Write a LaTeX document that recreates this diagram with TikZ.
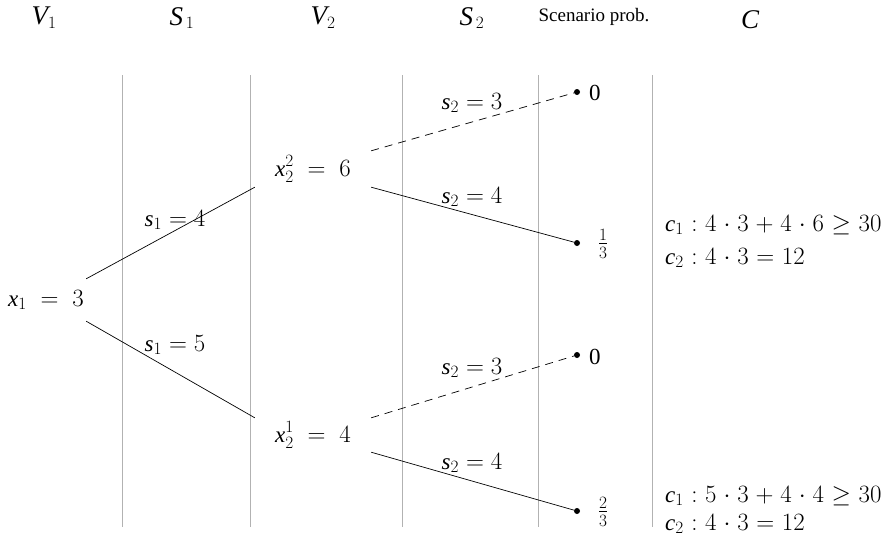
\documentclass[tikz,border=0pt]{standalone}
\usepackage{amsmath}
\usepackage{fontspec}
\setmainfont{Liberation Serif}[NFSSFamily=lsf]
\DeclareSymbolFont{lsfit}{TU}{lsf}{m}{it}
\DeclareSymbolFont{lsfrm}{TU}{lsf}{m}{n}
\DeclareMathSizes{23}{23}{16}{12}
\DeclareMathSizes{27}{27}{19}{14}
\Umathcode`0=0 \symlsfrm `0
\Umathcode`1=0 \symlsfrm `1
\Umathcode`2=0 \symlsfrm `2
\Umathcode`3=0 \symlsfrm `3
\Umathcode`4=0 \symlsfrm `4
\Umathcode`5=0 \symlsfrm `5
\Umathcode`6=0 \symlsfrm `6
\Umathcode`7=0 \symlsfrm `7
\Umathcode`8=0 \symlsfrm `8
\Umathcode`9=0 \symlsfrm `9
\Umathcode`x=7 \symlsfit `x
\Umathcode`s=7 \symlsfit `s
\Umathcode`c=7 \symlsfit `c
\Umathcode`V=7 \symlsfit `V
\Umathcode`S=7 \symlsfit `S
\Umathcode`C=7 \symlsfit `C
\newcommand{\consmath}[1]{\medmuskip=5mu\relax\thickmuskip=5.5mu\relax$#1$}
\begin{document}
\begin{tikzpicture}[x=1pt,y=-1pt,
  sep/.style={draw=black!30, line width=0.9pt},
  conn/.style={line width=0.7pt},
  dsh/.style={conn, dash pattern=on 8pt off 6pt},
  hdr/.style={font=\fontsize{27}{32}\selectfont, inner sep=0},
  hdrtext/.style={font=\fontsize{19}{22}\selectfont, inner sep=0},
  lbl/.style={font=\fontsize{23}{27}\selectfont, inner sep=0},
  cons/.style={font=\fontsize{23}{27}\selectfont, inner sep=0, anchor=base west},
  st/.style={font=\fontsize{23}{27}\selectfont, inner sep=0, minimum width=116, minimum height=36},
  dot/.style={circle, fill, inner sep=0, minimum size=6}]
\useasboundingbox (0,0) rectangle (890,541);
% separators
\foreach \x in {122,250,402,538,652} \draw[sep] (\x,75) -- (\x,527);
% headers
\node[hdr] (hV1) at (44,18) {$V_1$};
\node[hdr] (hS1) at (182,18) {$S_{\,1}$};
\node[hdr] (hV2) at (323,18) {$V_2$};
\node[hdr] (hS2) at (472,18) {$S_{\,2}$};
\node[hdrtext] (hP) at (594,17) {Scenario prob.};
\node[hdr] (hC) at (750,20) {$C$};
% states
\node[st, minimum width=80, minimum height=42] (x1) at (46,300) {$x_1\;=\;3$};
\node[st] (x22) at (313,169) {$x_2^2\;=\;6$};
\node[st, minimum height=34] (x21) at (313,435) {$x_2^1\;=\;4$};
% leaves
\node[dot] (d1) at (577,92) {};
\node[dot] (d2) at (577,243) {};
\node[dot] (d3) at (577,355) {};
\node[dot] (d4) at (577,511) {};
\node[lbl, anchor=west] (p1) at (589,93) {0};
\node[lbl] (p2) at (603,244) {$\frac{1}{3}$};
\node[lbl, anchor=west] (p3) at (589,357) {0};
\node[lbl] (p4) at (603,512) {$\frac{2}{3}$};
% connectors
\draw[conn] (x1.north east) -- (x22.south west);
\draw[conn] (x1.south east) -- (x21.north west);
\draw[dsh] (x22.north east) -- (d1);
\draw[conn] (x22.south east) -- (d2);
\draw[dsh] (x21.north east) -- (d3);
\draw[conn] (x21.south east) -- (d4);
% connector labels
\node[lbl] (l1) at (175,220) {$s_1 = 4$};
\node[lbl] (l2) at (175,345) {$s_1 = 5$};
\node[lbl] (l3) at (472,103) {$s_2 = 3$};
\node[lbl] (l4) at (472,197) {$s_2 = 4$};
\node[lbl] (l5) at (472,368) {$s_2 = 3$};
\node[lbl] (l6) at (472,463) {$s_2 = 4$};
% constraints
\node[cons] (c1) at (665,231) {\consmath{c_1\;{:}\;4\cdot 3 + 4\cdot 6 \geq 30}};
\node[cons] (c2) at (665,264) {\consmath{c_2\;{:}\;4\cdot 3 = 12}};
\node[cons] (c3) at (665,502) {\consmath{c_1\;{:}\;5\cdot 3 + 4\cdot 4 \geq 30}};
\node[cons] (c4) at (665,530) {\consmath{c_2\;{:}\;4\cdot 3 = 12}};
\end{tikzpicture}
\end{document}
